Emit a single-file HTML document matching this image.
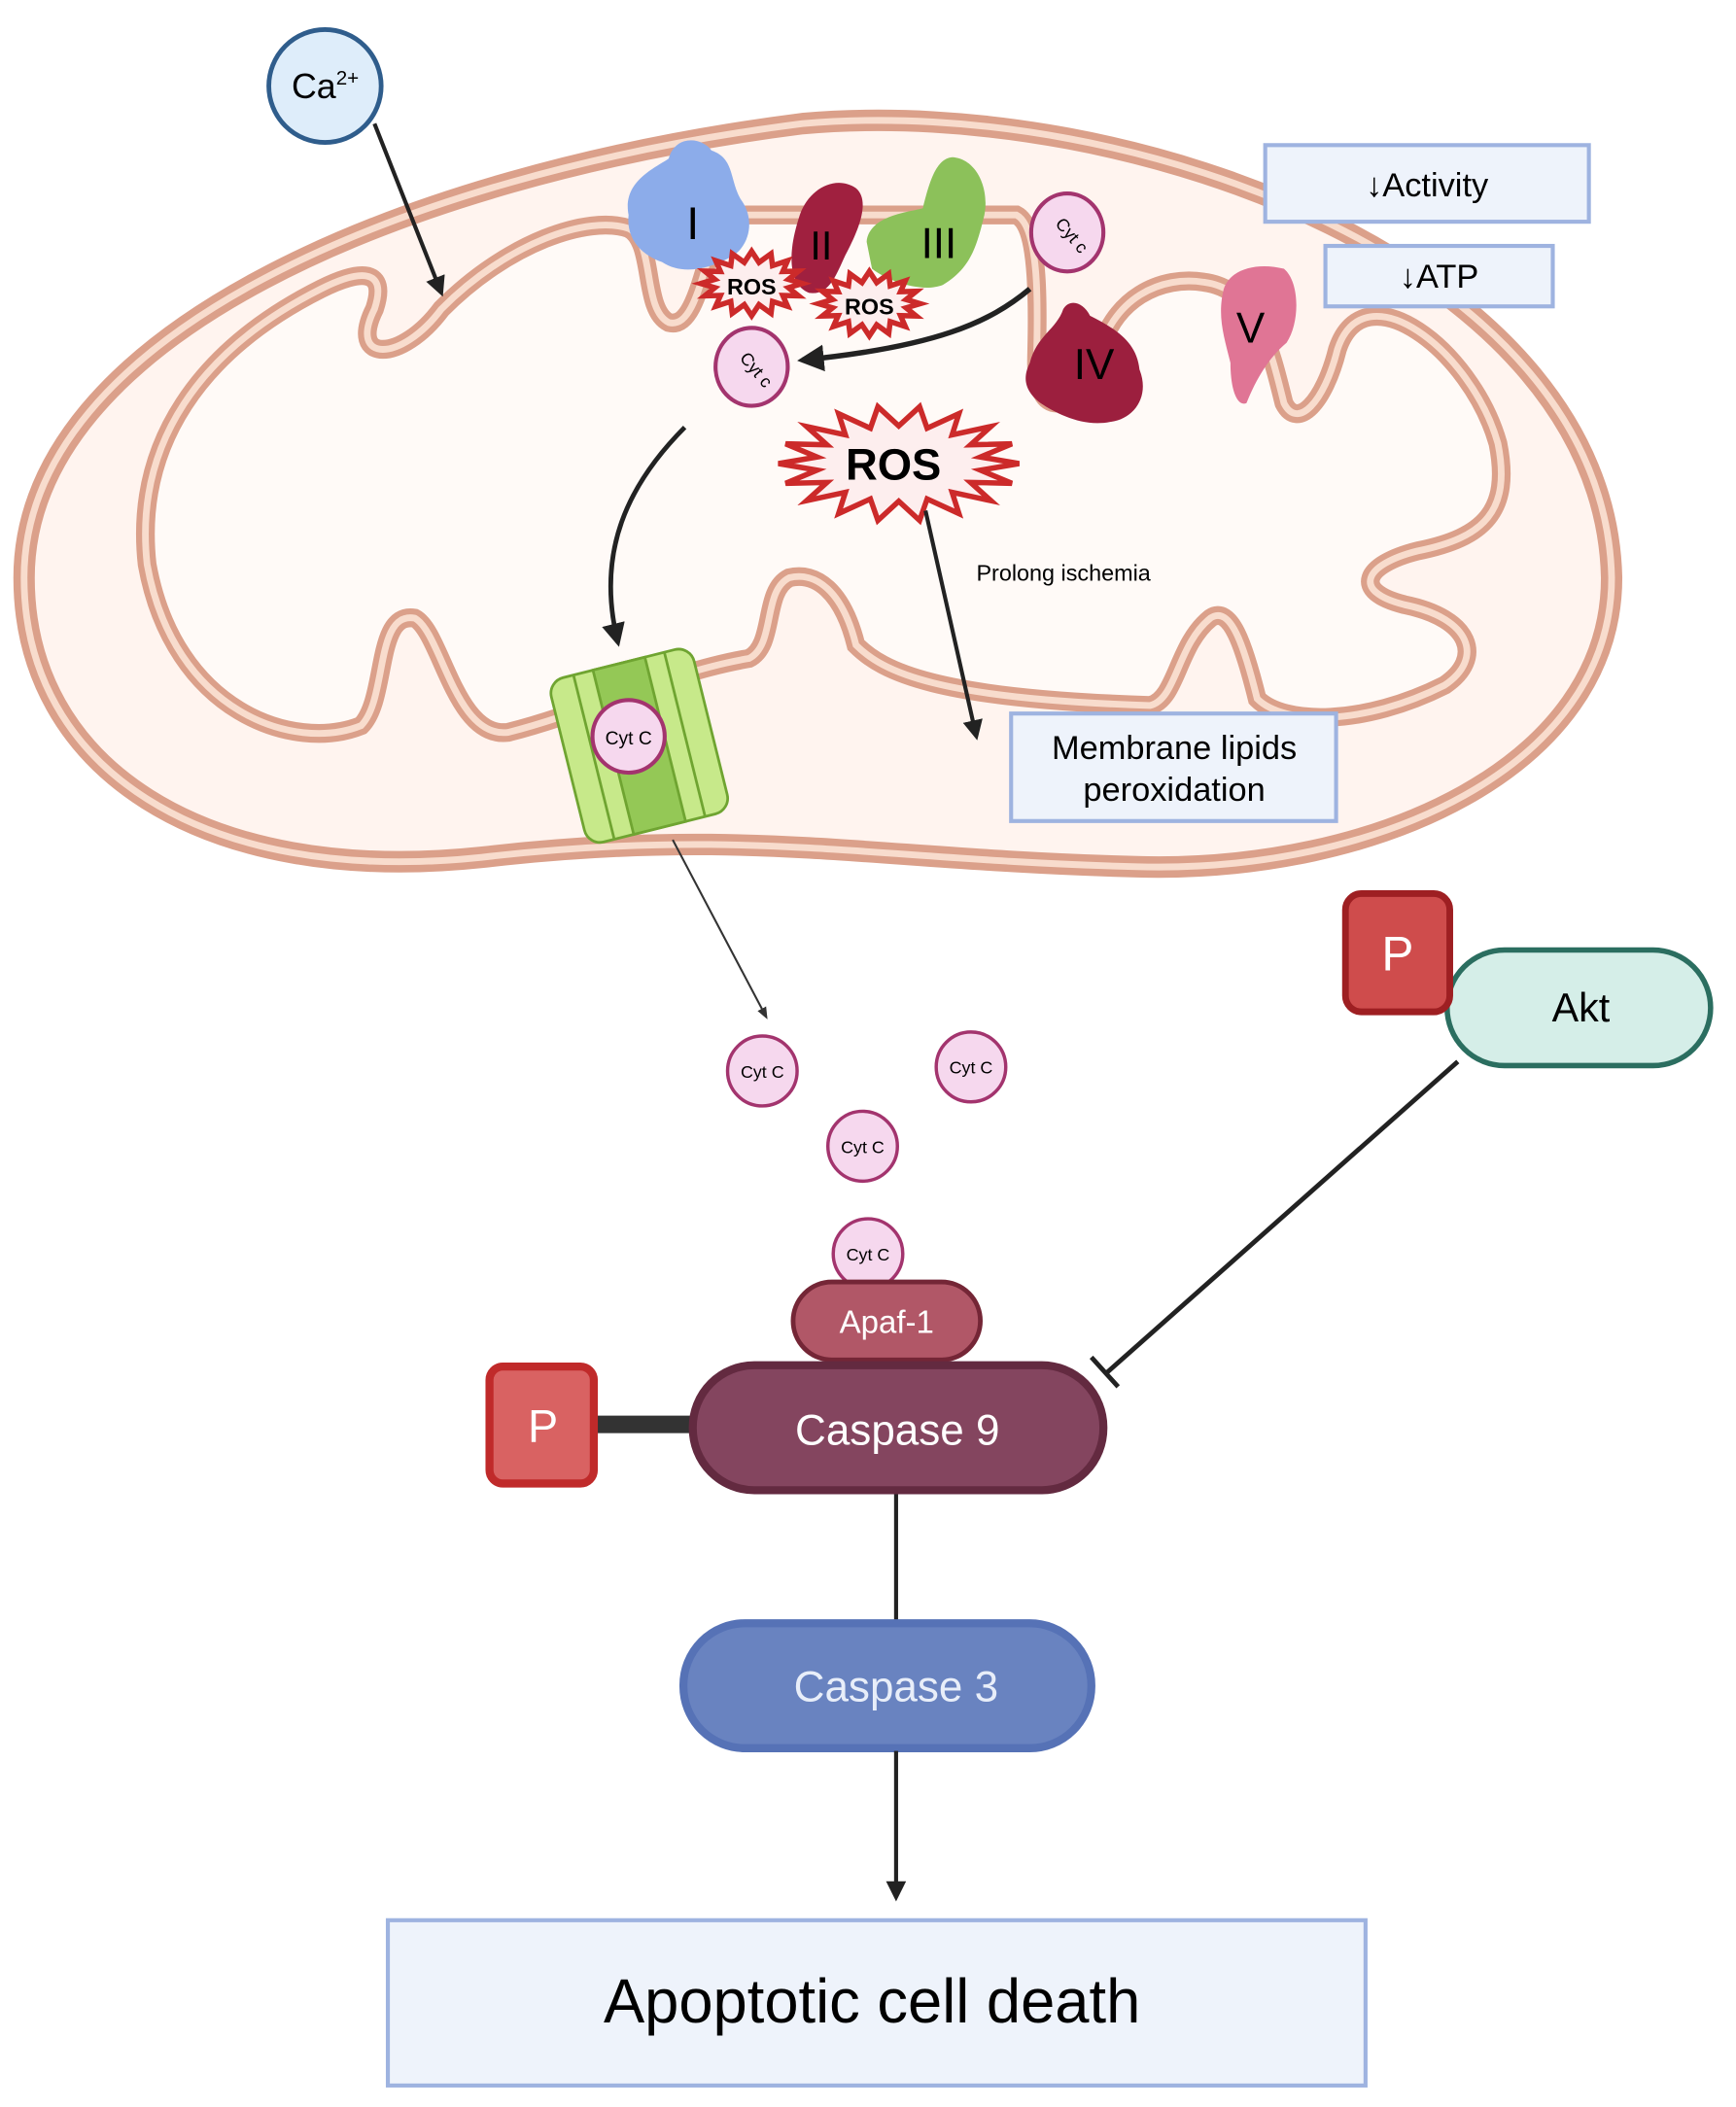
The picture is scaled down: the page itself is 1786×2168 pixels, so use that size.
<!DOCTYPE html>
<html><head><meta charset="utf-8"><style>
html,body{margin:0;padding:0;background:#fff}
svg{display:block}
text{font-family:"Liberation Sans",sans-serif}
</style></head><body>
<svg id="s" width="1786" height="2168" viewBox="0 0 1298 1568" preserveAspectRatio="none" xmlns="http://www.w3.org/2000/svg">
<defs>
<marker id="ah" viewBox="0 0 10 10" refX="8" refY="5" markerWidth="5" markerHeight="5" orient="auto"><path d="M0,0 L10,5 L0,10 Z" fill="#222"/></marker>
<marker id="ahs" viewBox="0 0 10 10" refX="8" refY="5" markerWidth="6" markerHeight="6" orient="auto"><path d="M0,1 L10,5 L0,9 Z" fill="#333"/></marker>
</defs>
<rect width="1298" height="1568" fill="#fff"/>
<!-- outer membrane -->
<path d="M18 430 C18 250 300 130 600 92 C850 70 1200 200 1205 430 C1205 570 1030 650 850 645 C650 640 560 615 360 638 C150 660 18 570 18 430 Z" fill="#fff4ef" stroke="#dba08a" stroke-width="16"/>
<path d="M18 430 C18 250 300 130 600 92 C850 70 1200 200 1205 430 C1205 570 1030 650 850 645 C650 640 560 615 360 638 C150 660 18 570 18 430 Z" fill="none" stroke="#f8dccd" stroke-width="5"/>
<!-- inner membrane -->
<g id="inner">
<path id="ip" d="M110 420 C100 330 150 260 240 215 C270 200 290 200 280 230 C260 270 300 270 330 230 C380 180 440 160 470 170 C490 180 480 230 500 240 C520 245 525 200 540 160 L760 160 C780 170 775 250 775 270 C775 310 800 310 820 270 C830 220 870 205 900 210 C940 215 950 260 960 300 C970 320 990 300 1000 260 C1020 200 1100 260 1120 330 C1130 380 1110 400 1060 410 C1020 420 1010 440 1050 450 C1100 460 1110 490 1080 510 C1020 540 960 540 940 520 C930 480 920 450 905 460 C880 480 880 520 860 525 C700 520 660 500 640 480 C630 440 610 425 590 430 C570 440 580 480 560 490 C500 500 440 530 380 545 C340 550 330 470 310 460 C280 455 290 520 270 540 C220 560 130 530 110 420 Z" fill="#fffaf7" stroke="#dba08a" stroke-width="14"/>
<path d="M110 420 C100 330 150 260 240 215 C270 200 290 200 280 230 C260 270 300 270 330 230 C380 180 440 160 470 170 C490 180 480 230 500 240 C520 245 525 200 540 160 L760 160 C780 170 775 250 775 270 C775 310 800 310 820 270 C830 220 870 205 900 210 C940 215 950 260 960 300 C970 320 990 300 1000 260 C1020 200 1100 260 1120 330 C1130 380 1110 400 1060 410 C1020 420 1010 440 1050 450 C1100 460 1110 490 1080 510 C1020 540 960 540 940 520 C930 480 920 450 905 460 C880 480 880 520 860 525 C700 520 660 500 640 480 C630 440 610 425 590 430 C570 440 580 480 560 490 C500 500 440 530 380 545 C340 550 330 470 310 460 C280 455 290 520 270 540 C220 560 130 530 110 420 Z" fill="none" stroke="#f8dccd" stroke-width="5"/>
</g>
<!-- complexes -->
<path d="M470 160 C465 135 490 125 500 118 C505 100 525 102 532 112 C550 118 545 135 555 150 C565 165 560 185 545 192 C530 200 510 205 495 195 C480 190 468 178 470 160 Z" fill="#8cacea"/>
<text x="518" y="178" font-size="34" text-anchor="middle">I</text>
<path d="M598 160 C605 140 625 130 640 140 C652 150 640 175 632 190 C625 205 620 220 605 218 C590 212 588 190 598 160 Z" fill="#a0203f"/>
<text x="614" y="193" font-size="30" text-anchor="middle">II</text>
<path d="M648 180 C650 160 680 158 690 155 C695 135 700 118 712 117 C730 118 740 140 736 160 C730 185 725 200 705 212 C690 218 665 210 652 200 Z" fill="#8cc15a"/>
<text x="702" y="192" font-size="32" text-anchor="middle">III</text>
<path d="M770 270 C775 250 790 245 795 230 C800 222 810 225 815 235 C835 245 850 255 852 275 C860 295 848 312 830 314 C810 318 790 308 778 300 C765 290 765 280 770 270 Z" fill="#9c1f3e"/>
<text x="818" y="282" font-size="32" text-anchor="middle">IV</text>
<path d="M915 215 C920 200 940 195 960 200 C972 210 972 240 962 255 C950 265 940 280 932 300 C925 303 920 290 920 270 C915 250 910 235 915 215 Z" fill="#e07595"/>
<text x="935" y="255" font-size="32" text-anchor="middle">V</text>
<g id="stars"></g>
<text x="562" y="219" font-size="17" font-weight="bold" text-anchor="middle">ROS</text>
<text x="650" y="234" font-size="17" font-weight="bold" text-anchor="middle">ROS</text>
<text x="668" y="357" font-size="33" font-weight="bold" text-anchor="middle">ROS</text>
<!-- cyt c in membrane -->
<g font-size="13" text-anchor="middle">
<ellipse cx="798" cy="173" rx="27" ry="29" fill="#f6d8ee" stroke="#a3346e" stroke-width="3"/>
<text transform="translate(798,178) rotate(50)" x="0" y="0">Cyt c</text>
<ellipse cx="562" cy="273" rx="27" ry="29" fill="#f6d8ee" stroke="#a3346e" stroke-width="3"/>
<text transform="translate(562,278) rotate(50)" x="0" y="0">Cyt c</text>
</g>
<path d="M770 215 C740 240 700 258 600 268" fill="none" stroke="#222" stroke-width="4" marker-end="url(#ah)"/>
<path d="M512 318 C470 360 445 410 462 478" fill="none" stroke="#222" stroke-width="3.5" marker-end="url(#ah)"/>
<path d="M692 380 L730 548" fill="none" stroke="#222" stroke-width="3" marker-end="url(#ah)"/>
<text x="730" y="432" font-size="17">Prolong ischemia</text>
<!-- Ca -->
<path d="M280 92 L330 218" stroke="#222" stroke-width="3" marker-end="url(#ah)"/>
<circle cx="243" cy="64" r="42" fill="#deedfa" stroke="#2f5d8c" stroke-width="3.5"/>
<text x="218" y="73" font-size="26">Ca<tspan font-size="15" dy="-10">2+</tspan></text>
<!-- boxes -->
<rect x="946" y="108" width="242" height="57" fill="#eef3fb" stroke="#9eb3e0" stroke-width="3"/>
<text x="1067" y="146" font-size="25" text-anchor="middle">↓Activity</text>
<rect x="991" y="183" width="170" height="45" fill="#eef3fb" stroke="#9eb3e0" stroke-width="3"/>
<text x="1076" y="214" font-size="25" text-anchor="middle">↓ATP</text>
<rect x="756" y="531" width="243" height="80" fill="#eef3fb" stroke="#9eb3e0" stroke-width="3"/>
<text x="878" y="565" font-size="25" text-anchor="middle">Membrane lipids</text>
<text x="878" y="596" font-size="25" text-anchor="middle">peroxidation</text>
<!-- channel -->
<g transform="translate(478,555) rotate(-14)">
<rect x="-55" y="-63" width="110" height="126" rx="12" fill="#c7e98a" stroke="#6fa431" stroke-width="2"/>
<rect x="-20" y="-63" width="40" height="126" fill="#94c856" stroke="#6fa431" stroke-width="2"/>
<line x1="-35" y1="-63" x2="-35" y2="63" stroke="#6fa431" stroke-width="2"/>
<line x1="35" y1="-63" x2="35" y2="63" stroke="#6fa431" stroke-width="2"/>
</g>
<circle cx="470" cy="548" r="27" fill="#f6d8ee" stroke="#a3346e" stroke-width="3"/>
<text x="470" y="554" font-size="14" text-anchor="middle">Cyt C</text>
<line x1="503" y1="625" x2="573" y2="757" stroke="#333" stroke-width="1.5" marker-end="url(#ahs)"/>
<!-- free cyt c -->
<g font-size="13" text-anchor="middle">
<circle cx="570" cy="797" r="26" fill="#f6d8ee" stroke="#a3346e" stroke-width="2.5"/><text x="570" y="802">Cyt C</text>
<circle cx="726" cy="794" r="26" fill="#f6d8ee" stroke="#a3346e" stroke-width="2.5"/><text x="726" y="799">Cyt C</text>
<circle cx="645" cy="853" r="26" fill="#f6d8ee" stroke="#a3346e" stroke-width="2.5"/><text x="645" y="858">Cyt C</text>
<circle cx="649" cy="933" r="26" fill="#f6d8ee" stroke="#a3346e" stroke-width="2.5"/><text x="649" y="938">Cyt C</text>
</g>
<!-- Akt -->
<line x1="1090" y1="790" x2="827" y2="1022" stroke="#222" stroke-width="3.5"/>
<line x1="816" y1="1010" x2="836" y2="1032" stroke="#222" stroke-width="3.5"/>
<rect x="1082" y="707" width="197" height="86" rx="43" fill="#d5eee8" stroke="#2b6e60" stroke-width="4"/>
<text x="1182" y="760" font-size="30" text-anchor="middle">Akt</text>
<rect x="1006" y="665" width="78" height="88" rx="12" fill="#cf4c4c" stroke="#9e1f22" stroke-width="5"/>
<text x="1045" y="722" font-size="36" fill="#fff" text-anchor="middle">P</text>
<!-- Apaf / caspase 9 -->
<rect x="593" y="954" width="140" height="58" rx="29" fill="#b15767" stroke="#742636" stroke-width="3.5"/>
<text x="663" y="992" font-size="24" fill="#fff" text-anchor="middle">Apaf-1</text>
<line x1="670" y1="1110" x2="670" y2="1208" stroke="#222" stroke-width="3"/>
<line x1="444" y1="1060" x2="522" y2="1060" stroke="#333" stroke-width="13"/>
<rect x="366" y="1017" width="78" height="87" rx="10" fill="#d96262" stroke="#c02a2a" stroke-width="6"/>
<text x="406" y="1073" font-size="34" fill="#fff" text-anchor="middle">P</text>
<rect x="518" y="1016" width="307" height="93" rx="46" fill="#84455f" stroke="#632a40" stroke-width="6"/>
<text x="671" y="1075" font-size="32" fill="#fff" text-anchor="middle">Caspase 9</text>
<rect x="511" y="1208" width="305" height="93" rx="46" fill="#6983c0" stroke="#5672b6" stroke-width="6"/>
<text x="670" y="1266" font-size="32" fill="#e8eef9" text-anchor="middle">Caspase 3</text>
<line x1="670" y1="1303" x2="670" y2="1412" stroke="#222" stroke-width="3" marker-end="url(#ah)"/>
<rect x="290" y="1429" width="731" height="123" fill="#eef3fb" stroke="#9eb3e0" stroke-width="3"/>
<text x="652" y="1505" font-size="46" text-anchor="middle">Apoptotic cell death</text>
</svg>
<script>
(function(){
var g=document.getElementById('stars');
function star(cx,cy,rx,ry,irx,iry,n,sw){
 var p=[];for(var i=0;i<2*n;i++){var a=Math.PI*i/n;var r=i%2==0;p.push((cx+(r?rx:irx)*Math.cos(a)).toFixed(1)+','+(cy+(r?ry:iry)*Math.sin(a)).toFixed(1));}
 var e=document.createElementNS('http://www.w3.org/2000/svg','polygon');
 e.setAttribute('points',p.join(' '));e.setAttribute('fill','#fdeeee');e.setAttribute('stroke','#cc2a2a');e.setAttribute('stroke-width',sw);g.appendChild(e);
}
star(562,211,38,24,28,16,16,4);
star(650,226,38,24,28,16,16,4);
star(672,345,90,43,62,28,18,4);
})();
</script>
</body></html>
